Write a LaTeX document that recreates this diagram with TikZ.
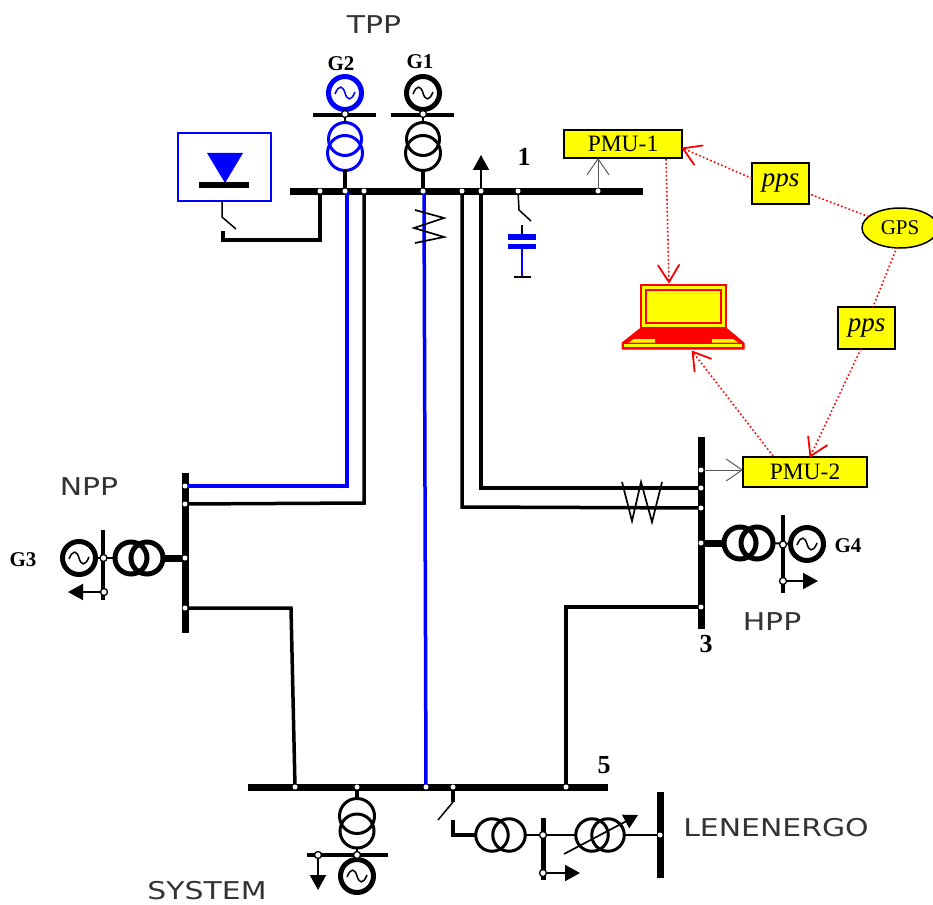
\documentclass[tikz,border=0pt]{standalone}
\usepackage{fontspec}
\setmainfont{Liberation Serif}
\newfontfamily\labfont{DejaVu Sans}
\usetikzlibrary{arrows.meta,shapes.geometric}
\definecolor{pblue}{RGB}{0,0,255}
\definecolor{pred}{RGB}{255,0,0}
\definecolor{pyel}{RGB}{255,255,0}
\tikzset{
  bus/.style={line width=7pt},
  feeder/.style={line width=3.5pt,line join=miter},
  bfeeder/.style={feeder,draw=pblue},
  thin sw/.style={line width=1.5pt},
  zig/.style={line width=1.7pt,line join=miter},
  jdot/.style={circle,fill=white,draw=none,minimum size=5pt,inner sep=0pt,outer sep=0pt},
  jdotb/.style={circle,fill=white,draw=black,line width=1.3pt,minimum size=7pt,inner sep=0pt,outer sep=0pt},
  gen/.style={circle,draw=black,line width=5pt,minimum size=33pt,inner sep=0pt,outer sep=0pt},
  tr/.style={circle,draw=black,line width=3pt,minimum size=33pt,inner sep=0pt,outer sep=0pt},
  trh/.style={tr,line width=5pt,minimum size=32pt},
  trm/.style={tr,line width=3pt,minimum size=32.5pt},
  load/.style={-{Triangle[length=15pt,width=16pt]},line width=2pt},
  meas/.style={draw=black!65,line width=1pt,-{Straight Barb[length=16pt,width=22pt,line width=1pt]}},
  sig/.style={draw=pred,line width=1.6pt,dash pattern=on 1.6pt off 2.4pt},
  sigarrow/.style={sig,-{Straight Barb[length=17pt,width=21pt,line width=1.8pt,round]}},
  ybox/.style={draw=black,fill=pyel,line width=1.8pt,inner sep=0pt,outer sep=0pt,font=\fontsize{23.5}{26}\selectfont},
  num/.style={font=\fontsize{26}{30}\bfseries\selectfont,inner sep=0pt},
  gname/.style={font=\fontsize{21}{24}\bfseries\selectfont,inner sep=0pt},
  place/.style={font=\labfont\fontsize{24.5}{28}\selectfont,text=black!80,inner sep=0pt,xscale=1.22},
}
\newcommand{\gsine}[2]{\draw[shift={(#1)},draw=#2,line width=1.5pt] (-10,1) .. controls (-6,-9) and (-2,-7) .. (0,0) .. controls (2,7) and (6,9) .. (10,-1);}
\begin{document}
\begin{tikzpicture}[x=1pt,y=-1pt]
\useasboundingbox (0,0) rectangle (933,904);
\clip (0,0) rectangle (933,904);
% --- junction coordinates
\coordinate (a1) at (320,191); \coordinate (a2) at (345,191); \coordinate (a3) at (364,191);
\coordinate (a4) at (423,191); \coordinate (a5) at (462,191); \coordinate (a6) at (481,191);
\coordinate (a7) at (518,191); \coordinate (a8) at (598,191);
\coordinate (c1) at (701,470); \coordinate (c2) at (701,488); \coordinate (c3) at (701,508);
\coordinate (c4) at (701,543); \coordinate (c5) at (701,607);
\coordinate (n1) at (185,486); \coordinate (n2) at (185,504); \coordinate (n3) at (185,558); \coordinate (n4) at (185,608);
\coordinate (s1) at (295,787); \coordinate (s2) at (357,787); \coordinate (s3) at (426,787);
\coordinate (s4) at (453,787); \coordinate (s5) at (566,787);
% --- buses
\draw[bus] (290,191) coordinate (bus1w) -- (643,191) coordinate (bus1e);
\draw[bus] (701,437) -- (701,629);
\draw[bus] (185,473) -- (185,633);
\draw[bus] (248,787) -- (608,787);
% --- feeders
\draw[bfeeder] (a2) ++(2,0) |- (n1);
\draw[feeder] (a3) -- (364,503) -- (n2);
\draw[bfeeder] (a4) ++(1,0) -- (s3);
\draw[feeder] (a5) -- (462,507) -- (c3);
\draw[feeder] (a6) -- (481,488) -- (c2);
\draw[feeder] (n4) -- (291,608) -- (s1);
\draw[feeder] (c5) -- (566,607) -- (s5);
\draw[feeder] (a1) -- (320,240) -- (223,240) -- (223,231);
% --- reactors
\draw[zig] (415,210) -- (444,218) -- (414,228) -- (444,237) -- (415,243);
\draw[zig] (622,482) -- (632,521) -- (641,482) -- (652,522) -- (662,482);
% --- G2 and G1
\node[gen,draw=pblue] (g2) at (345,93) {};
\gsine{g2}{pblue}
\node[tr,draw=pblue] (t2a) at (345,139) {};
\node[tr,draw=pblue,minimum size=35pt] (t2b) at (345,153) {};
\draw[line width=3.5pt] (313,115) -- (376,115);
\draw[line width=2pt] (g2) -- (t2a);
\draw[line width=3.5pt] (t2b) -- (345,189);
\node[gen] (g1) at (423,93) {};
\gsine{g1}{black}
\node[tr] (t1a) at (423,139) {};
\node[tr,minimum size=35pt] (t1b) at (423,153) {};
\draw[line width=3.5pt] (391,115) -- (454,115);
\draw[line width=2pt] (g1) -- (t1a);
\draw[line width=3.5pt] (t1b) -- (a4);
% --- loads at bus 1
\coordinate (l1) at (481,155);
\draw[load] (a6) -- (l1);
% --- capacitor
\draw[thin sw] (a7) -- (519,210) -- (531,221);
\coordinate (cap0) at (522,225);
\draw[thin sw] (cap0) -- (522,236);
\fill[pblue] (508,234) rectangle (536,239.5);
\fill[pblue] (508,243.5) rectangle (536,249);
\draw[draw=pblue,line width=1.7pt] (522,247) -- (522,277);
\draw[line width=1.7pt] (514,277) -- (531,277);
% --- static compensator
\node[draw=pblue,line width=1.5pt,minimum width=93pt,minimum height=68pt,inner sep=0pt,outer sep=0pt] (svc) at (224.5,167) {};
\fill[pblue] (207,153) -- (243,153) -- (225,183) -- cycle;
\draw[line width=6pt] (199,185) -- (249,185);
\draw[thin sw] (222,201) -- (222,217) -- (236,229);
% --- PMU boxes
\node[ybox,minimum width=118pt,minimum height=28pt] (pmu1) at (623,144) {PMU-1};
\node[ybox,minimum width=124pt,minimum height=30pt] (pmu2) at (805,472) {PMU-2};
\draw[meas] (a8) -- (598,158);
\draw[meas] (c1) -- (743,470);
% --- pps and GPS
\node[ybox,minimum width=57pt,minimum height=41pt,font=\fontsize{27}{30}\itshape\selectfont] (pps1) at (780.5,183.5) {pps};
\node[ybox,minimum width=57pt,minimum height=42pt,font=\fontsize{27}{30}\itshape\selectfont] (pps2) at (866.5,328) {pps};
\node[ellipse,draw=black,fill=pyel,line width=1.5pt,minimum width=76pt,minimum height=40pt,inner sep=0pt,outer sep=0pt,font=\fontsize{21}{24}\selectfont] (gps) at (900,228) {GPS};
% --- laptop
\node[draw=pred,fill=pyel,line width=1.5pt,minimum width=85pt,minimum height=43pt,inner sep=0pt,outer sep=0pt] (pc) at (683.5,306.5) {};
\draw[draw=pred,line width=2pt] (646,290) rectangle (721,323);
\fill[pred] (641,328) -- (726,328) -- (744,343) -- (744,349) -- (622,349) -- (622,343) -- cycle;
\draw[draw=pred,line width=1pt] (641,328) -- (726,328) -- (744,343) -- (744,349) -- (622,349) -- (622,343) -- cycle;
\fill[pyel] (624,344) -- (742,344) -- (742,346.5) -- (624,346.5) -- cycle;
\fill[pyel] (629,342.5) -- (655,342.5) -- (655,339) -- (634,339) -- cycle;
\fill[pyel] (712,342.5) -- (738,342.5) -- (733,339) -- (712,339) -- cycle;
% --- signal links
\draw[sigarrow] (pps1.170) -- (682,148);
\draw[sig] (gps.160) -- (pps1.-20);
\draw[sig] (897,247) -- (873,307);
\draw[sigarrow] (pps2.-105) -- (810,457);
\draw[sigarrow] (666,159) -- (669,283);
\draw[sigarrow] (773,456) -- (692,351);
% --- bus 3 equipment
\node[trh] (t3a) at (740,543) {};
\node[trh] (t3b) at (757,543) {};
\draw[bus] (c4) -- (t3a);
\node[gen] (g4) at (807,544) {};
\gsine{g4}{black}
\draw[line width=2pt] (t3b) -- (g4);
\draw[line width=3.5pt] (783,515) -- (783,593);
\coordinate (j3a) at (783,544.5); \coordinate (j3b) at (783,581); \coordinate (l3) at (818,581);
\draw[load] (j3b) -- (l3);
% --- NPP equipment
\node[trh] (t4a) at (131,558) {};
\node[trh] (t4b) at (147,558) {};
\draw[bus] (n3) -- (t4b);
\node[gen] (g3) at (79,558) {};
\gsine{g3}{black}
\draw[line width=2pt] (g3) -- (t4a);
\draw[line width=3.5pt] (103,530) -- (103,600);
\coordinate (j4a) at (103.5,558); \coordinate (j4b) at (104,592); \coordinate (l4) at (68,592);
\draw[load] (j4b) -- (l4);
% --- system
\node[tr,minimum size=35pt] (t5a) at (357,816) {};
\node[tr,minimum size=34pt] (t5b) at (357,831) {};
\draw[line width=3.5pt] (s2) -- (t5a);
\draw[line width=3.5pt] (307,855) -- (388,855);
\node[gen] (g5) at (357,876) {};
\gsine{g5}{black}
\draw[line width=2pt] (t5b) -- (g5);
\coordinate (j5a) at (357,855); \coordinate (j5b) at (318,855); \coordinate (l5) at (318,890);
\draw[load] (j5b) -- (l5);
% --- Lenenergo branch
\draw[feeder] (s4) -- (453,802);
\draw[thin sw] (453,802) -- (438,820);
\node[trm] (t6a) at (492,835) {};
\node[trm] (t6b) at (509,835) {};
\draw[feeder] (453,820) -- (453,835) -- (t6a);
\draw[line width=5pt] (543,818) -- (543,880);
\node[trm] (t7a) at (592,835) {};
\node[trm] (t7b) at (608,835) {};
\coordinate (j6a) at (543,835); \coordinate (j6b) at (543,873); \coordinate (l6) at (580,873);
\coordinate (j7) at (660,835);
\draw[line width=2pt] (t6b) -- (j6a) -- (t7a);
\draw[line width=2pt] (t7b) -- (j7);
\draw[bus] (660,792) -- (660,878);
\draw[load] (j6b) -- (l6);
\coordinate (ta0) at (564,854); \coordinate (ta1) at (638,815);
\draw[line width=1.7pt,-{Triangle[length=14pt,width=15pt]}] (ta0) -- (ta1);
% --- junction dots
\foreach \p in {a1,a2,a3,a4,a5,a6,a7,a8,c1,c2,c3,c4,c5,n1,n2,n3,n4,s1,s2,s3,s4,s5,j7}
  \node[jdot] (d\p) at (\p) {};
\node[jdotb] (dg2) at (345,114) {};
\node[jdotb] (dg1) at (423,114) {};
\foreach \p in {j3a,j3b,j4a,j4b,j5a,j5b,j6a,j6b}
  \node[jdotb] (d\p) at (\p) {};
% --- labels
\node[place] (tpp) at (374,25) {TPP};
\node[place] (npp) at (89,487) {NPP};
\node[place] (hpp) at (772,622) {HPP};
\node[place] (len) at (776,828) {LENENERGO};
\node[place] (sys) at (207,891) {SYSTEM};
\node[gname] (lg2) at (341,64) {G2};
\node[gname] (lg1) at (420,62) {G1};
\node[gname] (lg3) at (23,560) {G3};
\node[gname] (lg4) at (848,546) {G4};
\node[num] (no1) at (524,157) {1};
\node[num] (no3) at (706,644) {3};
\node[num] (no5) at (604,765) {5};
\end{tikzpicture}
\end{document}
